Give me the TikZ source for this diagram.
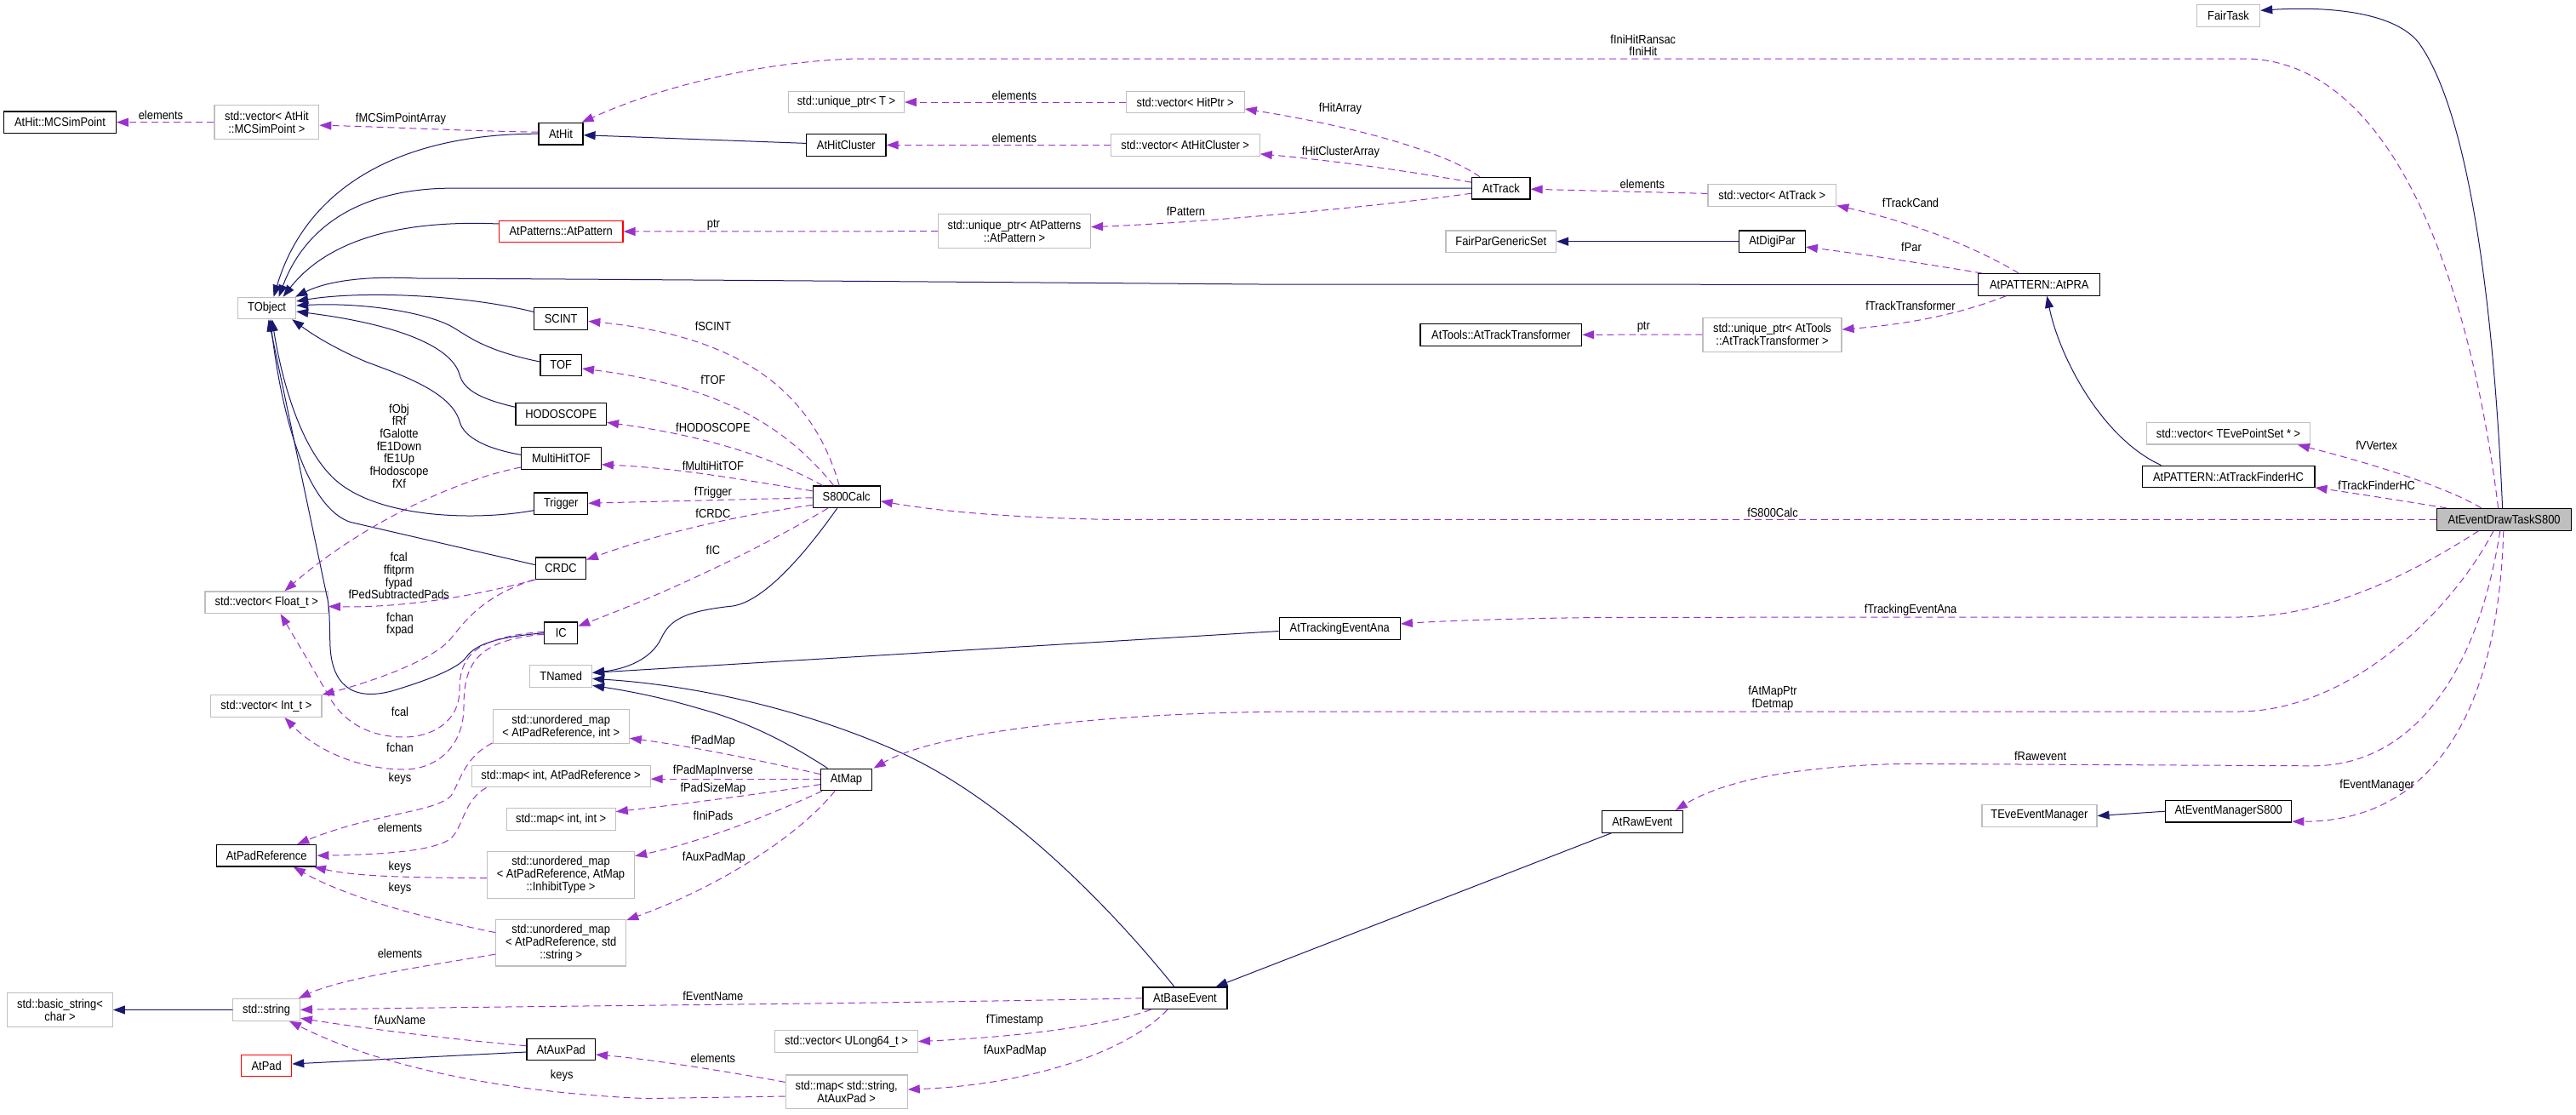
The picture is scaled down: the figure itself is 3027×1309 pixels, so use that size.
\documentclass[tikz,border=0pt]{standalone}
\usepackage{fontspec}
\setmainfont{Liberation Sans}[FakeStretch=0.89,Ligatures=NoCommon]
\usetikzlibrary{arrows.meta,calc}
\definecolor{edgeblue}{HTML}{191970}
\definecolor{edgepurple}{HTML}{9A32CD}
\definecolor{nodegray}{HTML}{BFBFBF}
\begin{document}
\begin{tikzpicture}[x=1pt,y=-1pt,
  every node/.style={font=\fontsize{14.5}{14.8}\selectfont},
  cls/.style={draw=black, fill=white, line width=1.2pt, inner sep=0pt, minimum height=25.6pt, align=center},
  ext/.style={cls, draw=nodegray},
  redcls/.style={cls, draw=red},
  maincls/.style={cls, fill=nodegray},
  twol/.style={minimum height=40pt},
  threel/.style={minimum height=54.6pt},
  inh/.style={draw=edgeblue, line width=1pt, -{Triangle[length=14pt,width=10pt]}},
  mem/.style={draw=edgepurple, line width=1pt, dash pattern=on 8pt off 5pt, -{Triangle[length=14pt,width=10pt]}},
  lbl/.style={inner sep=0pt, align=center, font=\fontsize{14.5}{14.7}\selectfont}]
\fill[white] (0,0) rectangle (3027,1309);
\useasboundingbox (0,0) rectangle (3027,1309);

% ---------------- nodes ----------------
\node[ext, minimum width=68pt, minimum height=25.3pt] (TObject) at (313.6,362) {TObject};
\node[cls, minimum width=131.4pt] (AtHitMC) at (70.5,143.7) {AtHit::MCSimPoint};
\node[ext, twol, minimum width=122.7pt] (vecMC) at (313.4,143.7) {std::vector< AtHit\\::MCSimPoint >};
\node[cls, minimum width=52pt] (AtHit) at (659,157.2) {AtHit};
\node[redcls, minimum width=145.5pt] (AtPattern) at (659.2,272) {AtPatterns::AtPattern};
\node[cls, minimum width=63pt] (SCINT) at (659.2,374.4) {SCINT};
\node[cls, minimum width=48.5pt] (TOF) at (659.2,429) {TOF};
\node[cls, minimum width=106.5pt] (HODOSCOPE) at (659.2,486.3) {HODOSCOPE};
\node[cls, minimum width=93.6pt] (MultiHitTOF) at (659.5,538.3) {MultiHitTOF};
\node[cls, minimum width=63pt] (Trigger) at (659.2,591.7) {Trigger};
\node[cls, minimum width=58.6pt] (CRDC) at (659,667.7) {CRDC};
\node[cls, minimum width=38.8pt] (IC) at (659.2,743.7) {IC};
\node[ext, minimum width=72.7pt] (TNamed) at (659.2,794.4) {TNamed};
\node[ext, minimum width=144.4pt] (vecFloat) at (313.2,707.8) {std::vector< Float\_t >};
\node[ext, minimum width=130.3pt] (vecInt) at (312.9,829.6) {std::vector< Int\_t >};
\node[ext, twol, minimum width=160pt] (umapInt) at (659.2,853.3) {std::unordered\_map\\< AtPadReference, int >};
\node[ext, minimum width=210pt] (mapIntRef) at (659.1,912) {std::map< int, AtPadReference >};
\node[ext, minimum width=128pt] (mapIntInt) at (659.2,962.3) {std::map< int, int >};
\node[cls, minimum width=117.3pt] (PadRef) at (313.2,1005.2) {AtPadReference};
\node[ext, threel, minimum width=173pt] (umapInh) at (659,1027.8) {std::unordered\_map\\< AtPadReference, AtMap\\::InhibitType >};
\node[ext, threel, minimum width=153pt] (umapStr) at (659.2,1107.6) {std::unordered\_map\\< AtPadReference, std\\::string >};
\node[ext, twol, minimum width=123.6pt] (bstr) at (70.5,1186.5) {std::basic\_string<\\char >};
\node[ext, minimum width=78.5pt] (str) at (313.1,1186.3) {std::string};
\node[redcls, minimum width=59pt] (AtPad) at (313.2,1252) {AtPad};
\node[cls, minimum width=80.5pt] (AtAuxPad) at (659.2,1233) {AtAuxPad};
\node[ext, minimum width=135.7pt] (uptrT) at (994.5,120) {std::unique\_ptr< T >};
\node[cls, minimum width=93.5pt] (AtHitCluster) at (994.3,170.4) {AtHitCluster};
\node[ext, twol, minimum width=178.8pt] (uptrPat) at (1192,271.7) {std::unique\_ptr< AtPatterns\\::AtPattern >};
\node[cls, minimum width=79pt] (S800Calc) at (994.7,583.8) {S800Calc};
\node[cls, minimum width=60pt] (AtMap) at (994.5,916) {AtMap};
\node[ext, minimum width=167.7pt] (vecUL) at (994.5,1223.6) {std::vector< ULong64\_t >};
\node[ext, twol, minimum width=143pt, minimum height=39.6pt] (mapAux) at (994.7,1282.7) {std::map< std::string,\\AtAuxPad >};
\node[cls, minimum width=98.9pt] (AtBaseEvent) at (1392.5,1172.8) {AtBaseEvent};
\node[ext, minimum width=139pt] (vecHit) at (1392.7,120) {std::vector< HitPtr >};
\node[ext, minimum width=175pt] (vecCluster) at (1392.7,170.4) {std::vector< AtHitCluster >};
\node[cls, minimum width=142pt] (AtTrackingEventAna) at (1574.3,738.5) {AtTrackingEventAna};
\node[cls, minimum width=68.4pt] (AtTrack) at (1763.8,221.2) {AtTrack};
\node[ext, minimum width=129.5pt] (FairParGenericSet) at (1763.8,283.7) {FairParGenericSet};
\node[cls, minimum width=189.6pt] (ATT) at (1763.8,393.3) {AtTools::AtTrackTransformer};
\node[cls, minimum width=95pt] (AtRawEvent) at (1929.8,965.3) {AtRawEvent};
\node[ext, minimum width=150.8pt] (vecTrack) at (2082.3,229.4) {std::vector< AtTrack >};
\node[cls, minimum width=77.6pt] (AtDigiPar) at (2082.5,283.7) {AtDigiPar};
\node[ext, twol, minimum width=163pt] (uptrTT) at (2082.5,393.1) {std::unique\_ptr< AtTools\\::AtTrackTransformer >};
\node[cls, minimum width=143.1pt] (AtPRA) at (2396.3,334.4) {AtPATTERN::AtPRA};
\node[ext, minimum width=135pt] (TEveEM) at (2396.4,958.5) {TEveEventManager};
\node[ext, minimum width=74.3pt] (FairTask) at (2618.5,18.3) {FairTask};
\node[ext, minimum width=191.8pt] (vecTEve) at (2618.5,509.2) {std::vector< TEvePointSet * >};
\node[cls, minimum width=202.8pt] (HC) at (2618.5,560) {AtPATTERN::AtTrackFinderHC};
\node[cls, minimum width=148pt] (EMS800) at (2618.7,953.2) {AtEventManagerS800};
\node[maincls, minimum width=158.1pt] (Main) at (2942.6,610.3) {AtEventDrawTaskS800};

% ---------------- inheritance ----------------
\draw[inh] (AtHit.west) .. controls (470,157) and (360,220) .. ($(TObject.north)+(8,0)$);
\draw[inh] (AtTrack.west) -- (540,221.2) .. controls (430,219) and (360,262) .. ($(TObject.north)+(14,0)$);
\draw[inh] ($(AtPattern.west)+(0,-9)$) .. controls (470,258) and (385,282) .. ($(TObject.north)+(19,0)$);
\draw[inh] (AtPRA.west) -- (1480,334) .. controls (1100,331) and (700,328) .. (490,327) .. controls (430,324) and (385,330) .. ($(TObject.north east)+(-1,0)$);
\draw[inh] ($(SCINT.west)+(0,-8)$) .. controls (540,345) and (420,342) .. ($(TObject.east)+(0,-8)$);
\draw[inh] ($(TOF.west)+(0,-4)$) .. controls (570,412) and (550,395) .. (533,385) .. controls (505,368) and (430,355) .. ($(TObject.east)+(0,-3)$);
\draw[inh] ($(HODOSCOPE.west)+(0,-8)$) .. controls (570,470) and (545,460) .. (540,440) .. controls (530,405) and (460,380) .. ($(TObject.east)+(0,4)$);
\draw[inh] ($(MultiHitTOF.west)+(0,-4)$) .. controls (575,528) and (545,515) .. (540,495) .. controls (530,460) and (470,440) .. (430,425) .. controls (395,410) and (370,395) .. ($(TObject.south east)+(-5,0)$);
\draw[inh] ($(Trigger.west)+(0,8)$) .. controls (560,612) and (440,610) .. (390,560) .. controls (350,520) and (330,440) .. ($(TObject.south)+(6,0)$);
\draw[inh] ($(CRDC.west)+(0,-4)$) -- (412,613.5) .. controls (370,600) and (335,520) .. ($(TObject.south)+(4,0)$);
\draw[inh] (IC.west) .. controls (590,748) and (560,755) .. (548,772) .. controls (538,786) and (500,800) .. (460,812) .. controls (410,825) and (390,800) .. (388,760) .. controls (387,735) and (388,715) .. (384,700) -- ($(TObject.south)+(2,0)$);
\draw[inh] ($(AtHitCluster.west)+(0,-2)$) -- ($(AtHit.east)+(0,1.5)$);
\draw[inh] ($(S800Calc.south)+(-11,0)$) .. controls (950,645) and (900,706) .. (861,712) .. controls (805,718) and (787,728) .. (777,750) .. controls (765,775) and (735,786) .. ($(TNamed.east)+(0,-4)$);
\draw[inh] ($(AtTrackingEventAna.west)+(0,3)$) -- ($(TNamed.east)+(0,-4)$);
\draw[inh] ($(AtMap.north)+(-22,0)$) .. controls (930,875) and (880,848) .. (820,832) .. controls (780,820) and (740,812) .. ($(TNamed.east)+(0,11)$);
\draw[inh] ($(AtBaseEvent.north)+(-12.5,0)$) .. controls (1300,1060) and (1180,940) .. (1060,885) .. controls (950,835) and (820,805) .. ($(TNamed.east)+(0,3)$);
\draw[inh] ($(AtRawEvent.south west)+(12,0)$) -- ($(AtBaseEvent.north east)+(-14,0)$);
\draw[inh] (AtDigiPar.west) -- (FairParGenericSet.east);
\draw[inh] ($(HC.north west)+(23,0)$) .. controls (2470,515) and (2420,420) .. ($(AtPRA.south)+(9,0)$);
\draw[inh] ($(Main.north)+(-2,0)$) .. controls (2930,350) and (2900,130) .. (2842,50) .. controls (2810,10) and (2720,8) .. ($(FairTask.east)+(0,-6)$);
\draw[inh] (EMS800.west) -- (TEveEM.east);
\draw[inh] (str.west) -- (bstr.east);
\draw[inh] ($(AtAuxPad.west)+(0,3)$) -- ($(AtPad.east)+(0,-2)$);

% ---------------- members ----------------
\draw[mem] (vecMC.west) -- (AtHitMC.east);
\node[lbl] (l1) at (189,135.5) {elements};
\draw[mem] ($(AtHit.west)+(0,-2)$) .. controls (550,154) and (450,149) .. ($(vecMC.east)+(0,3.5)$);
\node[lbl] (l2) at (471,139.3) {fMCSimPointArray};
\draw[mem] ($(Main.north)+(-7,0)$) .. controls (2905,350) and (2820,75) .. (2641.6,69) -- (1006,69) .. controls (900,72) and (780,100) .. ($(AtHit.north east)+(-2,0)$);
\node[lbl] (l3) at (1930.8,53.2) {fIniHitRansac\\fIniHit};
\draw[mem] (vecHit.west) -- (uptrT.east);
\node[lbl] (l4) at (1191.8,112) {elements};
\draw[mem] ($(AtTrack.north west)+(10,0)$) .. controls (1700,180) and (1600,150) .. ($(vecHit.east)+(0,8)$);
\node[lbl] (l5) at (1575,127.5) {fHitArray};
\draw[mem] (vecCluster.west) -- (AtHitCluster.east);
\node[lbl] (l6) at (1191.8,162.5) {elements};
\draw[mem] ($(AtTrack.west)+(0,-7)$) .. controls (1650,200) and (1560,188) .. ($(vecCluster.east)+(0,10.5)$);
\node[lbl] (l7) at (1575.5,178.5) {fHitClusterArray};
\draw[mem] ($(vecTrack.west)+(0,-2)$) -- ($(AtTrack.east)+(0,1)$);
\node[lbl] (l8) at (1929.8,216.7) {elements};
\draw[mem] ($(AtPRA.north west)+(48,0)$) .. controls (2320,290) and (2250,262) .. ($(vecTrack.east)+(0,12)$);
\node[lbl] (l9) at (2245,238.6) {fTrackCand};
\draw[mem] ($(AtPRA.north west)+(5,0)$) .. controls (2280,313) and (2200,300) .. ($(AtDigiPar.east)+(0,6.5)$);
\node[lbl] (l10) at (2246,290.4) {fPar};
\draw[mem] ($(AtTrack.west)+(0,6)$) .. controls (1600,245) and (1400,262) .. ($(uptrPat.east)+(0,-5)$);
\node[lbl] (l11) at (1393.4,248.3) {fPattern};
\draw[mem] (uptrPat.west) -- (AtPattern.east);
\node[lbl] (l12) at (838.4,263.9) {ptr};
\draw[mem] (uptrTT.west) -- (ATT.east);
\node[lbl] (l13) at (1931.3,384.7) {ptr};
\draw[mem] ($(AtPRA.south west)+(33,0)$) .. controls (2300,370) and (2240,381) .. ($(uptrTT.east)+(0,-6)$);
\node[lbl] (l14) at (2245,359.4) {fTrackTransformer};
\draw[mem] ($(S800Calc.north)+(-8.5,0)$) .. controls (955,460) and (870,395) .. ($(SCINT.east)+(0,3)$);
\node[lbl] (l15) at (837.9,383.8) {fSCINT};
\draw[mem] ($(S800Calc.north)+(-15,0)$) .. controls (930,510) and (860,455) .. ($(TOF.east)+(0,4)$);
\node[lbl] (l16) at (837.9,446.1) {fTOF};
\draw[mem] ($(S800Calc.north west)+(12,0)$) .. controls (920,545) and (850,515) .. ($(HODOSCOPE.east)+(0,10)$);
\node[lbl] (l17) at (837.9,502) {fHODOSCOPE};
\draw[mem] ($(S800Calc.west)+(0,-7)$) .. controls (880,565) and (800,550) .. ($(MultiHitTOF.east)+(0,7.5)$);
\node[lbl] (l18) at (837.9,547) {fMultiHitTOF};
\draw[mem] ($(S800Calc.west)+(0,1)$) -- ($(Trigger.east)+(0,-0.5)$);
\node[lbl] (l19) at (837.9,578.3) {fTrigger};
\draw[mem] ($(S800Calc.west)+(0,9.5)$) .. controls (870,605) and (780,625) .. ($(CRDC.east)+(0,-10)$);
\node[lbl] (l20) at (837.9,603) {fCRDC};
\draw[mem] ($(S800Calc.south)+(-22,0)$) .. controls (900,640) and (800,690) .. ($(IC.east)+(0,-8)$);
\node[lbl] (l21) at (837.9,646) {fIC};
\draw[mem] (Main.west) -- (1300,610.3) .. controls (1180,608) and (1100,600) .. ($(S800Calc.east)+(0,5)$);
\node[lbl] (l22) at (2083,602.3) {fS800Calc};
\draw[mem] ($(Main.north)+(-27,0)$) .. controls (2880,575) and (2800,548) .. ($(vecTEve.south east)+(-15,0)$);
\node[lbl] (l23) at (2792.7,523.1) {fVVertex};
\draw[mem] ($(Main.north west)+(12,0)$) .. controls (2820,588) and (2770,580) .. ($(HC.south east)+(0,-0.5)$);
\node[lbl] (l24) at (2792.7,570.3) {fTrackFinderHC};
\draw[mem] ($(Main.south)+(-30,0)$) .. controls (2840,670) and (2740,724) .. (2631.6,725) -- (1900,725.3) .. controls (1800,726) and (1700,729) .. ($(AtTrackingEventAna.east)+(0,-5.5)$);
\node[lbl] (l25) at (2245,716.8) {fTrackingEventAna};
\draw[mem] ($(Main.south)+(-12.6,0)$) .. controls (2880,720) and (2760,835) .. (2631.6,836) -- (1500,836.2) .. controls (1300,838) and (1100,860) .. ($(AtMap.north east)+(1.5,0)$);
\node[lbl] (l26) at (2083,820) {fAtMapPtr\\fDetmap};
\draw[mem] ($(Main.south)+(-4.8,0)$) .. controls (2910,800) and (2830,900) .. (2717,899.8) -- (2240,897.3) .. controls (2100,900) and (2020,920) .. ($(AtRawEvent.north east)+(-9,0)$);
\node[lbl] (l27) at (2397.6,888.3) {fRawevent};
\draw[mem] ($(Main.south)+(-0.8,0)$) .. controls (2935,850) and (2850,965) .. ($(EMS800.east)+(0,12)$);
\node[lbl] (l28) at (2793.2,922.4) {fEventManager};
\draw[mem] ($(AtMap.west)+(0,-6.4)$) .. controls (900,895) and (820,878) .. ($(umapInt.east)+(0,14)$);
\node[lbl] (l29) at (837.9,870.4) {fPadMap};
\draw[mem] ($(AtMap.west)+(0,-0.8)$) -- ($(mapIntRef.east)+(0,3.2)$);
\node[lbl] (l30) at (837.9,906.2) {fPadMapInverse};
\draw[mem] ($(AtMap.west)+(0,5.6)$) .. controls (900,932) and (800,945) .. ($(mapIntInt.east)+(0,-8.7)$);
\node[lbl] (l31) at (837.9,926.3) {fPadSizeMap};
\draw[mem] ($(AtMap.south west)+(2,0)$) .. controls (900,960) and (820,990) .. ($(umapInh.east)+(0,-22)$);
\node[lbl] (l32) at (837.9,958.3) {fIniPads};
\draw[mem] ($(AtMap.south)+(-13.5,0)$) .. controls (940,980) and (850,1040) .. ($(umapStr.north east)+(0,1.3)$);
\node[lbl] (l33) at (838.9,1008.2) {fAuxPadMap};
\draw[mem] (AtBaseEvent.west) .. controls (1000,1180) and (600,1182) .. (str.east);
\node[lbl] (l34) at (837.9,1170.3) {fEventName};
\draw[mem] ($(AtBaseEvent.south west)+(10,0)$) .. controls (1300,1205) and (1200,1218) .. (vecUL.east);
\node[lbl] (l35) at (1192.3,1198.5) {fTimestamp};
\draw[mem] ($(AtBaseEvent.south west)+(29.5,0)$) .. controls (1320,1240) and (1200,1275) .. ($(mapAux.east)+(0,-2.7)$);
\node[lbl] (l36) at (1192.7,1234.3) {fAuxPadMap};
\draw[mem] ($(mapAux.west)+(0,-11.3)$) .. controls (850,1258) and (760,1244) .. ($(AtAuxPad.east)+(0,6)$);
\node[lbl] (l37) at (837.9,1243.7) {elements};
\draw[mem] ($(mapAux.west)+(0,5.3)$) -- (760,1290.6) .. controls (620,1285) and (460,1260) .. ($(str.south east)+(-13,0)$);
\node[lbl] (l38) at (660.2,1264) {keys};
\draw[mem] ($(AtAuxPad.west)+(0,-4.3)$) .. controls (540,1222) and (440,1210) .. ($(str.east)+(0,10)$);
\node[lbl] (l39) at (470,1198.5) {fAuxName};
\draw[mem] ($(umapStr.west)+(0,13.5)$) .. controls (500,1135) and (400,1150) .. ($(str.north east)+(-2,0)$);
\node[lbl] (l40) at (470,1120.4) {elements};
\draw[mem] ($(umapStr.west)+(0,-12)$) .. controls (480,1075) and (400,1050) .. ($(PadRef.south east)+(-27.6,0)$);
\node[lbl] (l41) at (470,1043.6) {keys};
\draw[mem] ($(umapInh.west)+(0,3.8)$) .. controls (480,1031) and (420,1030) .. ($(PadRef.south east)+(-3.5,0)$);
\node[lbl] (l42) at (470,1018.4) {keys};
\draw[mem] ($(mapIntRef.south west)+(18,0)$) .. controls (545,940) and (545,970) .. (530,985) .. controls (510,1000) and (450,1004) .. (PadRef.east);
\node[lbl] (l43) at (470,972.3) {elements};
\draw[mem] ($(umapInt.south west)+(0,-1)$) .. controls (545,890) and (540,920) .. (530,935) .. controls (510,955) and (440,955) .. ($(PadRef.north)+(36,0)$);
\node[lbl] (l44) at (470,915.2) {keys};
\draw[mem] ($(IC.west)+(0,1.5)$) .. controls (560,752) and (545,780) .. (545,830) .. controls (545,880) and (510,904) .. (475,904) .. controls (420,904) and (370,880) .. ($(vecInt.south)+(21.6,0)$);
\node[lbl] (l45) at (470,878) {fchan};
\draw[mem] ($(IC.west)+(0,-1.5)$) .. controls (560,748) and (540,770) .. (540,810) .. controls (540,850) and (505,866) .. (475,866) .. controls (430,866) and (400,845) .. (385,815) -- ($(vecFloat.south)+(16.4,0)$);
\node[lbl] (l46) at (470,836.7) {fcal};
\draw[mem] (CRDC.south west) .. controls (540,705) and (460,714) .. ($(vecFloat.east)+(0,4.7)$);
\node[lbl] (l47) at (468.7,676.6) {fcal\\ffitprm\\fypad\\fPedSubtractedPads};
\draw[mem] ($(CRDC.south west)+(-2,0)$) .. controls (570,700) and (550,725) .. (530,750) .. controls (510,775) and (440,800) .. (vecInt.north east);
\node[lbl] (l48) at (470,733.6) {fchan\\fxpad};
\draw[mem] ($(MultiHitTOF.west)+(0,10.7)$) .. controls (530,565) and (420,620) .. ($(vecFloat.north)+(21.3,0)$);
\node[lbl] (l49) at (469,524) {fObj\\fRf\\fGalotte\\fE1Down\\fE1Up\\fHodoscope\\fXf};
\end{tikzpicture}
\end{document}
